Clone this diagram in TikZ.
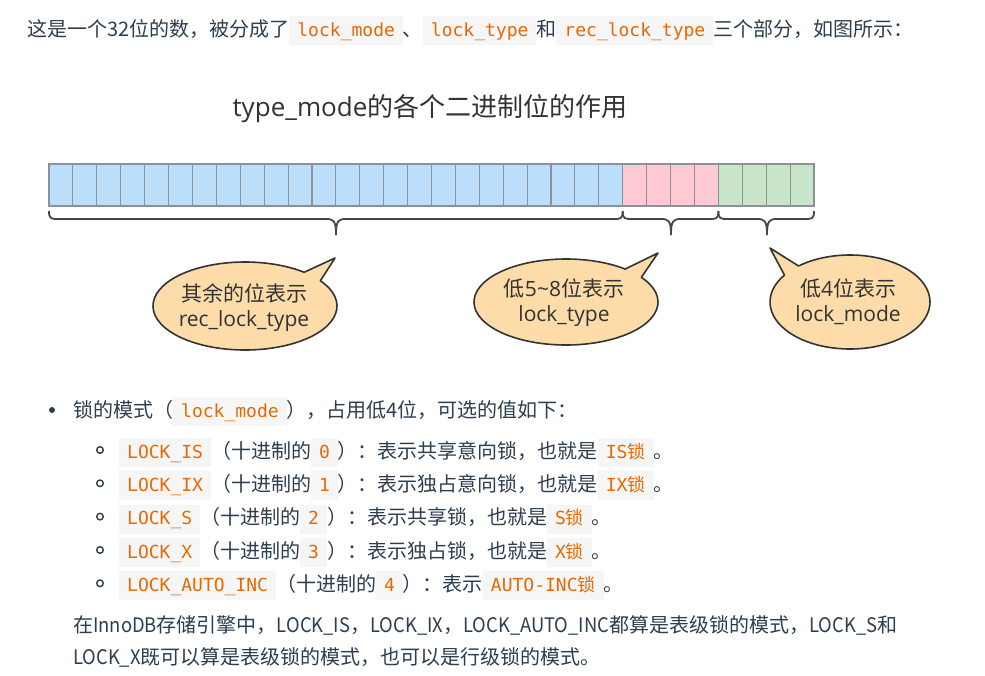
\documentclass[tikz,border=0pt]{standalone}
\usepackage{fontspec}
\setmainfont{Noto Sans CJK SC}
\newfontfamily\codefont{DejaVu Sans Mono}
\newfontfamily\cjkc{Noto Sans CJK SC}
\newfontfamily\nlat[FakeStretch=0.92]{Noto Sans CJK SC}
\newfontfamily\latf{Open Sans}
\definecolor{txt}{HTML}{2C3E50}
\definecolor{dark}{HTML}{333333}
\definecolor{codeor}{HTML}{E96900}
\definecolor{codebg}{HTML}{F6F6F6}
\definecolor{cellblue}{HTML}{BBDEFA}
\definecolor{cellpink}{HTML}{FFCAD2}
\definecolor{cellgreen}{HTML}{C8E5CA}
\definecolor{cellline}{HTML}{8A9198}
\definecolor{bubfill}{HTML}{FDDCA9}
\newcommand\cd[1]{{\setlength\fboxsep{0pt}\colorbox{codebg}{\rule[-9pt]{0pt}{29pt}\hspace{8pt}\textcolor{codeor}{\fontsize{18}{18}\codefont #1}\hspace{8pt}}}}
\newcommand\mybrace[3]{\draw[bracel] (#1,211) .. controls (#1,219) and (#1+2,219) .. (#1+10,219) -- (#2-10,219) .. controls (#2-2,219) and (#2,221) .. (#2,235) .. controls (#2,221) and (#2+2,219) .. (#2+10,219) -- (#3-10,219) .. controls (#3-2,219) and (#3,219) .. (#3,211);}
\newcommand\bubble[7]{\filldraw[bub] (#1,#2) ++(#5:#3 and #4) arc[start angle=#5, end angle=#6, x radius=#3, y radius=#4] -- #7 -- cycle;}
\tikzset{
  body/.style={anchor=base west, inner sep=0pt, text=txt, font=\fontsize{20}{20}\selectfont},
  btxt/.style={align=center, inner sep=0pt, text=dark, font=\fontsize{21}{25}\selectfont},
  bracel/.style={draw=dark!90, line width=1.8pt},
  bub/.style={fill=bubfill, draw=dark, line width=1.6pt, line join=round},
  cellst/.style={draw=cellline, line width=1.1pt},
}
\begin{document}
\begin{tikzpicture}[x=1pt,y=-1pt]
\useasboundingbox[fill=white] (0,0) rectangle (985,675);
% top line
\node[body] (top) at (27,36) {这是一个32位的数，被分成了\cd{lock\_mode}、\cd{lock\_type}和\cd{rec\_lock\_type}三个部分，如图所示：};
% title
\node[inner sep=0pt, text=dark, font=\fontsize{26}{26}\selectfont] (ttl) at (430,109) {{\latf type\_mode}的各个二进制位的作用};
% bit cells
\foreach \i in {0,...,31}{
  \pgfmathsetmacro\xa{49+\i*23.906}
  \pgfmathsetmacro\xb{49+(\i+1)*23.906}
  \ifnum\i<24 \def\cc{cellblue}\else\ifnum\i<28 \def\cc{cellpink}\else\def\cc{cellgreen}\fi\fi
  \filldraw[cellst, fill=\cc] (\xa,164) rectangle (\xb,206);
}
% braces
\mybrace{49}{336}{622.7}
\mybrace{622.7}{671}{718.4}
\mybrace{718.4}{767}{814}
% bubbles
\bubble{245}{306}{92}{44}{-35}{310}{(335,258)}
\bubble{566}{302}{92}{43}{-35}{310}{(658,253)}
\bubble{850}{302}{80}{47}{-130}{215}{(770,248)}
\node[btxt] (b1) at (244,308) {其余的位表示\\{\latf rec\_lock\_type}};
\node[btxt] (b2) at (564,303) {低{\latf 5\textasciitilde 8}位表示\\{\latf lock\_type}};
\node[btxt] (b3) at (848,302) {低{\latf 4}位表示\\{\latf lock\_mode}};
% list
\fill[txt] (52,410) circle (3);
\node[body] (l0) at (73,417) {锁的模式（\cd{lock\_mode}），占用低4位，可选的值如下：};
\foreach \yy in {450,483.3,516.6,550,583.3}{\draw[txt, line width=1.4pt] (100,\yy) circle (3.3);}
\node[body] (r1) at (119,458) {\cd{LOCK\_IS}（十进制的\cd{0}）：表示共享意向锁，也就是\cd{IS{\cjkc 锁}}。};
\node[body] (r2) at (119,491.3) {\cd{LOCK\_IX}（十进制的\cd{1}）：表示独占意向锁，也就是\cd{IX{\cjkc 锁}}。};
\node[body] (r3) at (119,524.6) {\cd{LOCK\_S}（十进制的\cd{2}）：表示共享锁，也就是\cd{S{\cjkc 锁}}。};
\node[body] (r4) at (119,558) {\cd{LOCK\_X}（十进制的\cd{3}）：表示独占锁，也就是\cd{X{\cjkc 锁}}。};
\node[body] (r5) at (119,591.3) {\cd{LOCK\_AUTO\_INC}（十进制的\cd{4}）：表示\cd{AUTO-INC{\cjkc 锁}}。};
% paragraph
\node[body] (p1) at (73,632) {在{\nlat InnoDB}存储引擎中，{\nlat LOCK\_IS}，{\nlat LOCK\_IX}，{\nlat LOCK\_AUTO\_INC}都算是表级锁的模式，{\nlat LOCK\_S}和};
\node[body] (p2) at (73,664) {{\nlat LOCK\_X}既可以算是表级锁的模式，也可以是行级锁的模式。};
\end{tikzpicture}
\end{document}
